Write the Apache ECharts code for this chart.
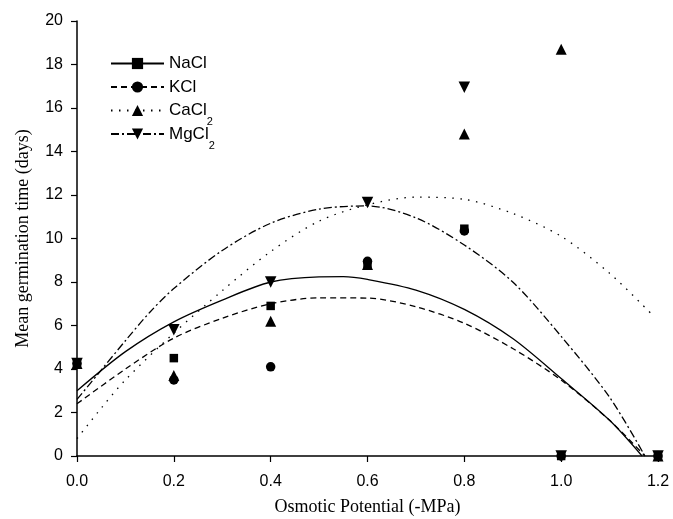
<!DOCTYPE html>
<html>
<head>
<meta charset="utf-8">
<script src="https://cdn.jsdelivr.net/npm/echarts@6/dist/echarts.min.js"></script>
<style>
  html, body { margin: 0; padding: 0; background: #fff; }
  #main { width: 673px; height: 519px; }
</style>
</head>
<body>
<div id="main"></div>
<script>
// measured points
var levels = [0, 0.2, 0.4, 0.6, 0.8, 1.0, 1.2];
var naclPts = [4.25, 4.5, 6.9, 8.8, 10.45, 0, 0];
var kclPts = [4.25, 3.5, 4.1, 8.95, 10.35, 0, 0];
var cacl2Pts = [4.25, 3.7, 6.2, 8.8, 14.8, 18.7, 0];
var mgcl2Pts = [4.25, 5.8, 8.0, 11.65, 16.95, 0, 0];

// fitted curves
var naclCurveX = [0, 0.1, 0.2, 0.3, 0.4, 0.5, 0.55, 0.6, 0.7, 0.8, 0.9, 1.0, 1.1, 1.167];
var naclCurveY = [3.0, 4.8, 6.17, 7.17, 8.0, 8.24, 8.25, 8.12, 7.63, 6.74, 5.4, 3.56, 1.64, 0];
var kclCurveX = [0, 0.1, 0.2, 0.3, 0.4, 0.5, 0.6, 0.7, 0.8, 0.9, 1.0, 1.1, 1.173];
var kclCurveY = [2.4, 4.0, 5.42, 6.33, 7.0, 7.27, 7.26, 6.86, 6.1, 4.94, 3.49, 1.64, 0];
var cacl2CurveX = [0, 0.05, 0.1, 0.2, 0.3, 0.4, 0.5, 0.6, 0.7, 0.8, 0.9, 1.0, 1.1, 1.19];
var cacl2CurveY = [0.8, 2.2, 3.5, 5.65, 7.6, 9.4, 10.8, 11.55, 11.9, 11.8, 11.15, 10.1, 8.4, 6.45];
var mgcl2CurveX = [0, 0.05, 0.1, 0.15, 0.2, 0.3, 0.4, 0.5, 0.6, 0.7, 0.8, 0.9, 1.0, 1.1, 1.173];
var mgcl2CurveY = [2.6, 3.95, 5.3, 6.6, 7.7, 9.45, 10.7, 11.35, 11.5, 10.95, 9.7, 8.0, 5.5, 2.7, 0];

var xTicks = ['0.0', '0.2', '0.4', '0.6', '0.8', '1.0', '1.2'];

var downTri = 'path://M0,0 L10,0 L5,9 Z';

function pairs(xs, ys) {
    var out = [];
    for (var i = 0; i < xs.length; i++) out.push([xs[i], ys[i]]);
    return out;
}

var salts = [
    {name: 'NaCl', label: 'NaCl{sub| }', cx: naclCurveX, cy: naclCurveY, pts: naclPts, symbol: 'rect', size: 8.5, dash: 'solid'},
    {name: 'KCl', label: 'KCl{sub| }', cx: kclCurveX, cy: kclCurveY, pts: kclPts, symbol: 'circle', size: 9.5, dash: [6, 4]},
    {name: 'CaCl2', label: 'CaCl{sub|2}', cx: cacl2CurveX, cy: cacl2CurveY, pts: cacl2Pts, symbol: 'triangle', size: 11, dash: [1.5, 6.5]},
    {name: 'MgCl2', label: 'MgCl{sub|2}', cx: mgcl2CurveX, cy: mgcl2CurveY, pts: mgcl2Pts, symbol: downTri, size: 11.5, dash: [8, 3, 2, 3]}
];

var series = [];
salts.forEach(function (s) {
    series.push({
        name: s.name,
        type: 'line',
        data: pairs(s.cx, s.cy),
        smooth: 0.3,
        showSymbol: false,
        symbol: s.symbol,
        symbolSize: s.size,
        itemStyle: {color: '#000'},
        lineStyle: {color: '#000', width: 1.3, type: s.dash},
        silent: true,
        z: 2
    });
});
salts.forEach(function (s) {
    series.push({
        name: s.name,
        type: 'scatter',
        data: pairs(levels, s.pts),
        symbol: s.symbol,
        symbolSize: s.size,
        itemStyle: {color: '#000', opacity: 1},
        z: 3
    });
});

var myChart = echarts.init(document.getElementById('main'));
var option = {
    animation: false,
    backgroundColor: '#fff',
    grid: {left: 77, right: 15, top: 21, bottom: 63, outerBoundsMode: 'none'},
    legend: {
        orient: 'vertical',
        left: 105,
        top: 50,
        itemWidth: 53,
        itemHeight: 14,
        itemGap: -2,
        data: ['NaCl', 'KCl', 'CaCl2', 'MgCl2'],
        formatter: function (name) {
            for (var i = 0; i < salts.length; i++) {
                if (salts[i].name === name) return salts[i].label;
            }
            return name;
        },
        textStyle: {
            fontFamily: 'Liberation Sans',
            fontSize: 17,
            color: '#000',
            rich: {
                sub: {fontFamily: 'Liberation Sans', fontSize: 11, color: '#000', padding: [23, 0, 0, 0]}
            }
        }
    },
    xAxis: {
        type: 'value',
        min: 0,
        max: 1.2,
        interval: 0.2,
        name: 'Osmotic Potential (-MPa)',
        nameLocation: 'middle',
        nameGap: 42,
        nameTextStyle: {fontFamily: 'Liberation Serif', fontSize: 18, color: '#000'},
        axisLine: {lineStyle: {color: '#000', width: 1.5}},
        axisTick: {inside: false, length: 6, lineStyle: {color: '#000', width: 1.2}},
        axisLabel: {
            fontFamily: 'Liberation Sans', fontSize: 16, color: '#000', margin: 18,
            formatter: function (v) { return xTicks[Math.round(v / 0.2)]; }
        },
        splitLine: {show: false}
    },
    yAxis: {
        type: 'value',
        min: 0,
        max: 20,
        interval: 2,
        name: 'Mean germination time (days)',
        nameLocation: 'middle',
        nameGap: 45,
        nameTextStyle: {fontFamily: 'Liberation Serif', fontSize: 18, color: '#000'},
        axisLine: {show: true, lineStyle: {color: '#000', width: 1.5}},
        axisTick: {show: true, inside: false, length: 6, lineStyle: {color: '#000', width: 1.2}},
        axisLabel: {fontFamily: 'Liberation Sans', fontSize: 16, color: '#000', margin: 14},
        splitLine: {show: false}
    },
    series: series
};
myChart.setOption(option);
</script>
</body>
</html>
